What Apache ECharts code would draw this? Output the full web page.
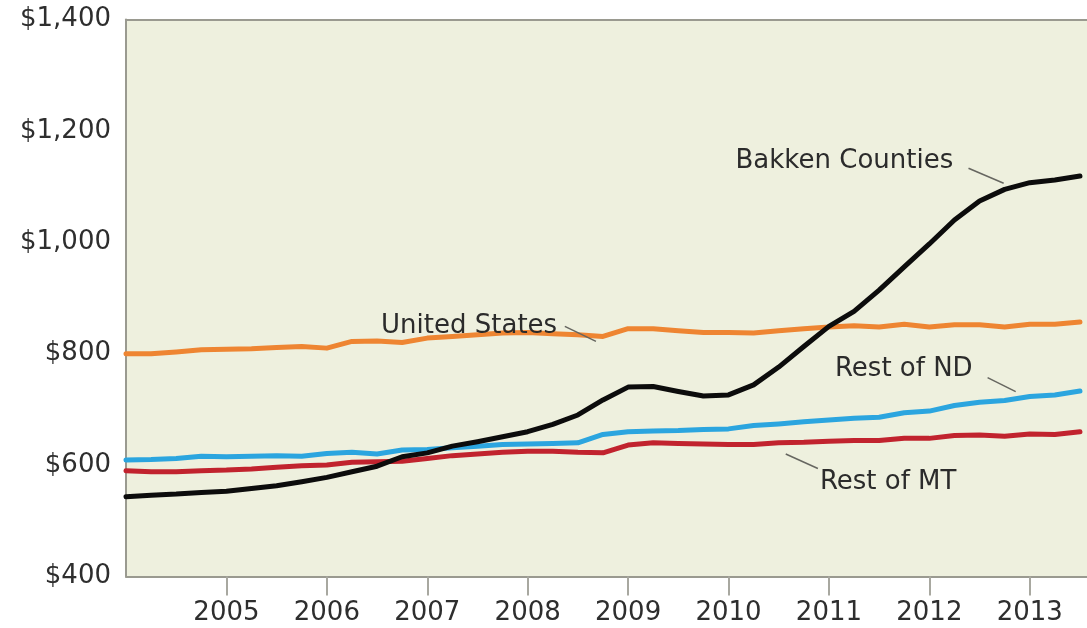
<!DOCTYPE html>
<html>
<head>
<meta charset="utf-8">
<script src="https://cdn.jsdelivr.net/npm/echarts@6/dist/echarts.min.js"></script>
<style>
html,body{margin:0;padding:0;background:#ffffff;}
#chart{width:1087px;height:628px;}
</style>
</head>
<body>
<div id="chart"></div>
<script>
// Quarterly observations, 2004 Q1 .. 2013 Q3
const quarters = [
  '2004Q1','2004Q2','2004Q3','2004Q4','2005Q1','2005Q2','2005Q3','2005Q4',
  '2006Q1','2006Q2','2006Q3','2006Q4','2007Q1','2007Q2','2007Q3','2007Q4',
  '2008Q1','2008Q2','2008Q3','2008Q4','2009Q1','2009Q2','2009Q3','2009Q4',
  '2010Q1','2010Q2','2010Q3','2010Q4','2011Q1','2011Q2','2011Q3','2011Q4',
  '2012Q1','2012Q2','2012Q3','2012Q4','2013Q1','2013Q2','2013Q3'
];
const unitedStates = [800,800,803,807,808,809,811,813,810,822,823,820,828,831,834,837,838,836,834,831,845,845,841,838,838,837,841,845,848,850,848,853,848,852,852,848,853,853,857];
const bakkenCounties = [543,546,548,551,553,558,563,570,578,588,598,615,622,634,642,651,660,673,690,717,740,741,732,724,726,744,776,813,849,876,914,956,997,1040,1074,1095,1107,1112,1119];
const restOfND = [609,610,612,616,615,616,617,616,621,623,620,627,628,631,634,637,638,639,640,655,660,661,662,664,665,671,674,678,681,684,686,694,697,707,713,716,723,726,733];
const restOfMT = [590,588,588,590,591,593,596,599,600,605,606,607,612,617,620,623,625,625,623,622,636,640,639,638,637,637,640,641,643,644,644,648,648,653,654,652,656,655,660];
const yearTicks = [2005,2006,2007,2008,2009,2010,2011,2012,2013];
const yTicks = [400,600,800,1000,1200,1400];

function qToX(q){ return parseInt(q.slice(0,4),10) + (parseInt(q.slice(5),10)-1)/4; }
function pairs(vals){ return quarters.map((q,i)=>[qToX(q), vals[i]]); }

const FONT = 'DejaVu Sans';
const AXIS_GRAY = '#9a9a90';
const chart = echarts.init(document.getElementById('chart'), null, {renderer:'canvas'});

const seriesDefs = [
  {name:'United States', data:unitedStates, color:'#EE8532', z:2},
  {name:'Rest of MT', data:restOfMT, color:'#C1232E', z:3},
  {name:'Rest of ND', data:restOfND, color:'#2BA5DF', z:4},
  {name:'Bakken Counties', data:bakkenCounties, color:'#0c0c0c', z:5}
];

const option = {
  animation:false,
  backgroundColor:'#ffffff',
  grid:{left:126,right:0,top:19.5,bottom:51.5,show:true,backgroundColor:'#EEF0DE',borderWidth:0},
  xAxis:[{
    type:'value', min:2004, max:2013.57, interval:1,
    axisLine:{show:true,lineStyle:{color:AXIS_GRAY,width:2}},
    axisTick:{show:true,length:19,customValues:yearTicks,lineStyle:{color:'#a8a8a0',width:2}},
    splitLine:{show:false},
    axisLabel:{
      margin:24, color:'#2e2e2e', fontFamily:FONT, fontSize:26,
      customValues:yearTicks,
      formatter:function(v){ return String(v); }
    }
  },{
    type:'value', position:'top', min:2004, max:2013.57,
    axisLine:{show:true,lineStyle:{color:AXIS_GRAY,width:2}},
    axisTick:{show:false}, axisLabel:{show:false}, splitLine:{show:false}
  }],
  yAxis:{
    type:'value', min:400, max:1400, interval:200,
    axisLine:{show:true,lineStyle:{color:AXIS_GRAY,width:2}},
    axisTick:{show:false},
    splitLine:{show:false},
    axisLabel:{
      margin:15, color:'#2e2e2e', fontFamily:FONT, fontSize:26,
      formatter:function(v){ return yTicks.indexOf(v)>=0 ? '$' + v.toLocaleString('en-US') : ''; }
    }
  },
  series: seriesDefs.map(s=>({
    name:s.name, type:'line', xAxisIndex:0, data:pairs(s.data), showSymbol:false, symbol:'none',
    z:s.z, lineStyle:{color:s.color,width:5,join:'round',cap:'round'}, smooth:false
  }))
};
chart.setOption(option);

// Annotation labels and leader lines, anchored in data space
const annotations = [
  {text:'Bakken Counties', at:[2010.07,1146], line:[[2012.39,1133],[2012.74,1106]]},
  {text:'United States',   at:[2006.54,849],  line:[[2008.37,849],[2008.68,822]]},
  {text:'Rest of ND',      at:[2011.06,772],  line:[[2012.58,757],[2012.86,732]]},
  {text:'Rest of MT',      at:[2010.91,570],  line:[[2010.57,620],[2010.89,594]]}
];

const graphics = [];
annotations.forEach(a=>{
  const p = chart.convertToPixel({xAxisIndex:0, yAxisIndex:0}, a.at);
  graphics.push({type:'text', x:p[0], y:p[1], z:100,
    style:{text:a.text, fill:'#2b2b2b', font:'26px "'+FONT+'"', textAlign:'left', textVerticalAlign:'middle'}});
  const p1 = chart.convertToPixel({xAxisIndex:0, yAxisIndex:0}, a.line[0]);
  const p2 = chart.convertToPixel({xAxisIndex:0, yAxisIndex:0}, a.line[1]);
  graphics.push({type:'line', z:100, shape:{x1:p1[0],y1:p1[1],x2:p2[0],y2:p2[1]},
    style:{stroke:'#666660',lineWidth:1.5}});
});
chart.setOption({graphic:graphics});
</script>
</body>
</html>
